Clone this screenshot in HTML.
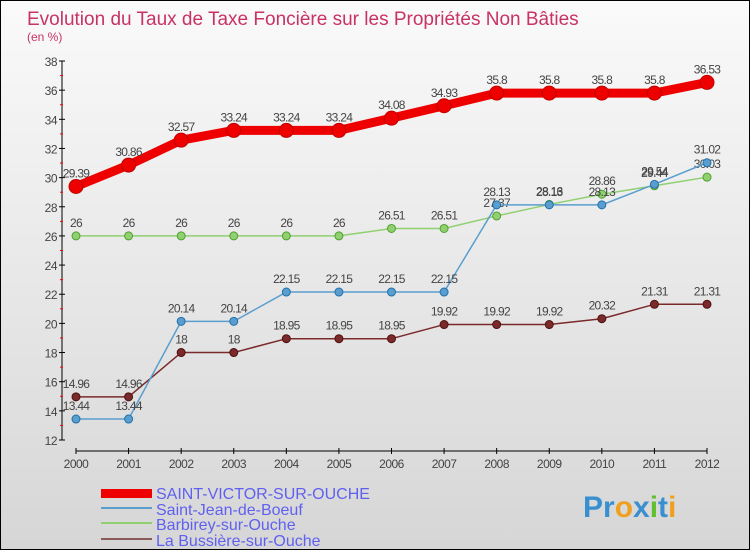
<!DOCTYPE html>
<html><head><meta charset="utf-8"><style>
body{margin:0}
#c{position:relative;width:748px;height:548px;border:1px solid #000;background:linear-gradient(#fafafa,#d6d6d6);font-family:"Liberation Sans",sans-serif;overflow:hidden}
</style></head><body>
<div id="c">
<svg id="s" width="748" height="548" style="position:absolute;left:0;top:0">
<text x="26" y="24" font-size="19" fill="#c83264">Evolution du Taux de Taxe Foncière sur les Propriétés Non Bâties</text>
<text x="26" y="40" font-size="12" fill="#c83264">(en %)</text>
<g id="axes"></g><g id="series"></g>
<g>
<rect x="100" y="488" width="51" height="9" fill="#ee0000"/>
<text x="155" y="498" font-size="16" fill="#6060f0">SAINT-VICTOR-SUR-OUCHE</text>
<line x1="100" y1="507" x2="151" y2="507" stroke="#5a9ecf" stroke-width="2"/>
<text x="155" y="514" font-size="16" fill="#6060f0">Saint-Jean-de-Boeuf</text>
<line x1="100" y1="522" x2="151" y2="522" stroke="#90d070" stroke-width="2"/>
<text x="155" y="529" font-size="16" fill="#6060f0">Barbirey-sur-Ouche</text>
<line x1="100" y1="538" x2="151" y2="538" stroke="#8a5a5a" stroke-width="2"/>
<text x="155" y="545" font-size="16" fill="#6060f0">La Bussière-sur-Ouche</text>
</g>
<text x="582" y="516" font-size="30" font-weight="bold"><tspan fill="#3a8fd0">Pr</tspan><tspan fill="#f0a020">o</tspan><tspan fill="#3a8fd0">x</tspan><tspan fill="#60c030">i</tspan><tspan fill="#3a8fd0">t</tspan><tspan fill="#f0a020">i</tspan></text>
</svg>
</div>
<script>
const years=[2000,2001,2002,2003,2004,2005,2006,2007,2008,2009,2010,2011,2012];
const yTicks=[12,14,16,18,20,22,24,26,28,30,32,34,36,38];
const saintVictor=[29.39,30.86,32.57,33.24,33.24,33.24,34.08,34.93,35.8,35.8,35.8,35.8,36.53];
const saintJean=[13.44,13.44,20.14,20.14,22.15,22.15,22.15,22.15,28.13,28.13,28.13,29.54,31.02];
const barbirey=[26,26,26,26,26,26,26.51,26.51,27.37,28.16,28.86,29.44,30.03];
const bussiere=[14.96,14.96,18,18,18.95,18.95,18.95,19.92,19.92,19.92,20.32,21.31,21.31];
const NS="http://www.w3.org/2000/svg";
const X=i=>75+i*(706-75)/(years.length-1);
const Y=v=>439-(v-12)*(439-60)/26;
function mk(t,a,p){const e=document.createElementNS(NS,t);for(const k in a)e.setAttribute(k,a[k]);p.appendChild(e);return e;}
const ax=document.getElementById('axes');
const yl=mk('line',{x1:61,y1:60,x2:61,y2:439,stroke:'#000'},ax);


yTicks.forEach(v=>{
 mk('line',{x1:58,y1:Y(v),x2:64,y2:Y(v),stroke:'#000'},ax);
 if(v<38)mk('line',{x1:59,y1:Y(v+1),x2:62,y2:Y(v+1),stroke:'#f00'},ax);
 const t=mk('text',{x:56,y:Y(v)+5,'font-size':12,fill:'#444','text-anchor':'end','letter-spacing':'-0.5'},ax);t.textContent=v;
 
 
});
const xl=mk('line',{x1:75,y1:450,x2:706,y2:450,stroke:'#000'},ax);


years.forEach((y,i)=>{
 mk('line',{x1:X(i),y1:447,x2:X(i),y2:453,stroke:'#000'},ax);
 const t=mk('text',{x:X(i),y:467,'font-size':12,fill:'#444','text-anchor':'middle','letter-spacing':'-0.5'},ax);t.textContent=y;
 
 
});
const sg=document.getElementById('series');
function draw(vals,color,w,r,name,dark){
 const g=mk('g',{},sg);
 
 
 mk('polyline',{points:vals.map((v,i)=>X(i)+','+Y(v)).join(' '),fill:'none',stroke:color,'stroke-width':w,'stroke-linejoin':'round'},g);
 vals.forEach((v,i)=>{
  const c=mk('circle',{cx:X(i),cy:Y(v),r:r,fill:color,stroke:dark,'stroke-width':1},g);
  
  
  const t=mk('text',{x:X(i),y:Y(v)-9,'font-size':12,fill:'#444','text-anchor':'middle','letter-spacing':'-0.7'},g);t.textContent=v;
  
  
 });
}
draw(bussiere,'#7a2a2a',1.5,4,'series-la-bussiere','#501010');
draw(barbirey,'#90d070',1.5,4,'series-barbirey','#50a030');
draw(saintJean,'#5a9ecf',1.5,4,'series-saint-jean','#2070a8');
draw(saintVictor,'#ee0000',9,7,'series-saint-victor','#c00000');
</script>
</body></html>
